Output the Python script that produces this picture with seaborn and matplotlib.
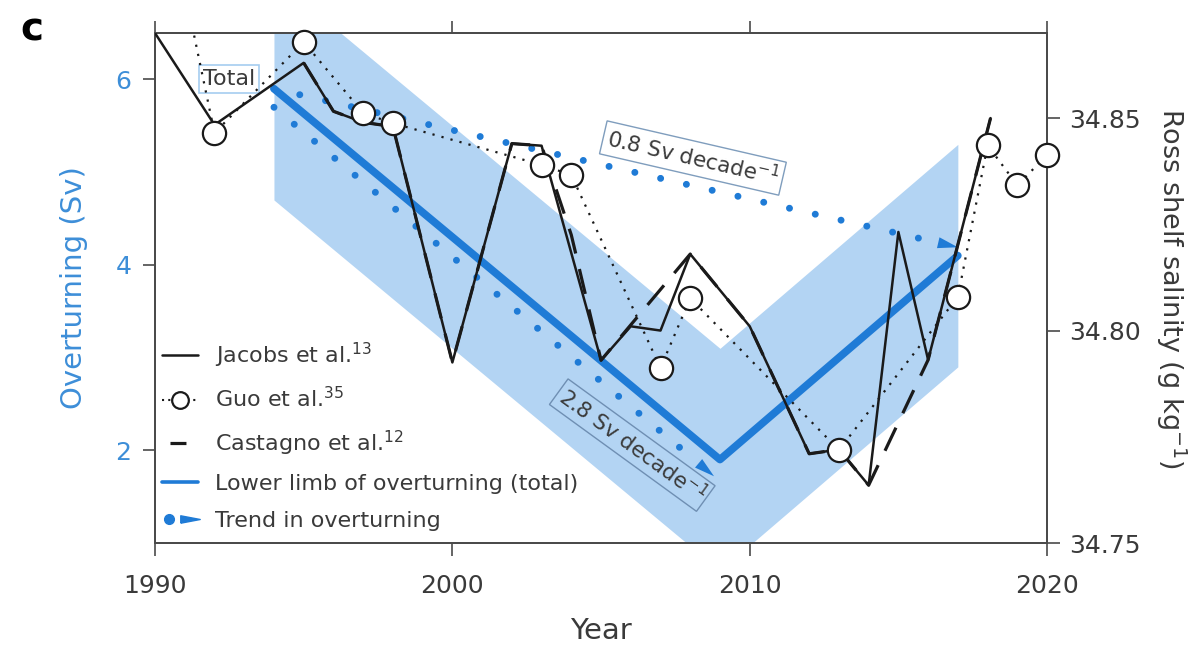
import numpy as np
import pandas as pd
import matplotlib
matplotlib.use("Agg")
import matplotlib.pyplot as plt
import seaborn as sns
from matplotlib.lines import Line2D
from matplotlib.legend_handler import HandlerTuple
from matplotlib.ticker import FormatStrFormatter

# ---------------- data ----------------
limb_years = [1994, 2009, 2017]
limb_sv = [5.9, 1.9, 4.1]
band_upper = [7.1, 3.1, 5.3]
band_lower = [4.7, 0.7, 2.9]

trend_slow_years = [1994, 2017]
trend_slow_sv = [5.9, 4.19]
trend_fast_years = [1994, 2008.8]
trend_fast_sv = [5.7, 1.72]

jacobs_years = [1990, 1992, 1995, 1996, 1997, 1998, 2000, 2002, 2003, 2005, 2006,
                2007, 2008, 2010, 2012, 2013, 2014, 2015, 2016, 2018.1]
jacobs_sal = [34.870, 34.8484, 34.863, 34.8516, 34.849, 34.848, 34.7925, 34.844,
              34.8435, 34.793, 34.801, 34.800, 34.818, 34.801, 34.771, 34.772,
              34.7636, 34.8232, 34.7931, 34.850]

castagno_years = [1995, 1996, 1997, 1998, 2000, 2002, 2003, 2004, 2005, 2008, 2010,
                  2012, 2013, 2014, 2016, 2018.1]
castagno_sal = [34.863, 34.8516, 34.849, 34.848, 34.7925, 34.844, 34.8435, 34.8225,
                34.793, 34.818, 34.801, 34.771, 34.772, 34.7636, 34.7931, 34.850]

guo_years = [1991, 1992, 1995, 1997, 1998, 2003, 2004, 2007, 2008, 2013, 2017,
             2018, 2019, 2020]
guo_sal = [34.88, 34.8465, 34.8679, 34.8512, 34.8488, 34.839, 34.8366, 34.7912,
           34.8076, 34.7719, 34.8079, 34.8436, 34.8342, 34.8413]

x_ticks = [1990, 2000, 2010, 2020]
sv_ticks = [2, 4, 6]
sal_ticks = [34.75, 34.80, 34.85]

legend_labels = ["Jacobs et al.$^{13}$", "Guo et al.$^{35}$", "Castagno et al.$^{12}$",
                 "Lower limb of overturning (total)", "Trend in overturning"]

# ---------------- style ----------------
sns.set_theme(style="ticks")
plt.rcParams["font.family"] = ["DejaVu Sans"]
plt.rcParams["mathtext.fontset"] = "dejavusans"

BLUE = "#1f7bd6"
BAND = "#b3d4f3"
LABEL_BLUE = "#3d8ed8"
BLACK = "#1a1a1a"
GREY = "#3a3a3a"
SPINE = "#4a4a4a"

fig = plt.figure(figsize=(11.98, 6.49), dpi=100)
ax = fig.add_axes([0.1294, 0.1633, 0.7446, 0.7857])
ax2 = ax.twinx()

ax.set_xlim(1990, 2020)
ax.set_ylim(1.0, 6.5)
ax2.set_ylim(34.75, 34.87)

# band and lower limb
ax.fill_between(limb_years, band_lower, band_upper, color=BAND, lw=0, zorder=1)
sns.lineplot(x=limb_years, y=limb_sv, ax=ax, color=BLUE, lw=5.5, estimator=None,
             sort=False, solid_capstyle="round", zorder=3)

# trend lines with arrow heads
def trend(xs, ys, head_years=0.7):
    x0, x1 = xs
    y0, y1 = ys
    frac = head_years / (x1 - x0)
    xb = x1 - frac * (x1 - x0)
    yb = y1 - frac * (y1 - y0)
    xd = x1 - 1.25 * frac * (x1 - x0)
    yd = y1 - 1.25 * frac * (y1 - y0)
    sns.lineplot(x=[x0, xd], y=[y0, yd], ax=ax, color=BLUE, lw=5.0,
                 linestyle=(0, (0.01, 3.8)), dash_capstyle="round",
                 estimator=None, sort=False, zorder=4)
    ax.annotate("", xy=(x1, y1), xytext=(xb, yb),
                arrowprops=dict(arrowstyle="-|>,head_length=1.45,head_width=0.4",
                                mutation_scale=10, fc=BLUE, ec="none", lw=0,
                                shrinkA=0, shrinkB=0), zorder=4)

trend(trend_slow_years, trend_slow_sv)
trend(trend_fast_years, trend_fast_sv)

# salinity records on right axis
sns.lineplot(x=guo_years, y=guo_sal, ax=ax2, color=BLACK, lw=1.6,
             linestyle=(0, (1, 3.2)), estimator=None, sort=False, zorder=2)
sns.lineplot(x=castagno_years, y=castagno_sal, ax=ax2, color=BLACK, lw=2.3,
             linestyle=(0, (8, 5)), estimator=None, sort=False, zorder=3)
sns.lineplot(x=jacobs_years, y=jacobs_sal, ax=ax2, color=BLACK, lw=1.8,
             estimator=None, sort=False, zorder=4)
guo_df = pd.DataFrame({"year": guo_years, "sal": guo_sal})
guo_df = guo_df[guo_df["sal"] <= 34.87]
sns.scatterplot(data=guo_df, x="year", y="sal", ax=ax2, s=280, marker="o",
                facecolor="white", edgecolor=BLACK, linewidth=1.6, zorder=5,
                clip_on=False)

# annotations
ax.text(1992.5, 6.0, "Total", ha="center", va="center", fontsize=16, color=GREY,
        zorder=6, bbox=dict(boxstyle="square,pad=0.18", fc="white", ec="#a6cdf0", lw=1.2))
ax2.text(0.603, 0.755, "0.8 Sv decade$^{-1}$", transform=ax.transAxes, ha="center",
         va="center", fontsize=15.5, color=GREY, rotation=-13, zorder=6,
         bbox=dict(boxstyle="square,pad=0.2", fc="white", ec="#7f9dbd", lw=1.0))
ax2.text(0.535, 0.192, "2.8 Sv decade$^{-1}$", transform=ax.transAxes, ha="center",
         va="center", fontsize=15.5, color=GREY, rotation=-36, zorder=6,
         bbox=dict(boxstyle="square,pad=0.15", fc="none", ec="#6f8fb3", lw=1.0))

# axes styling
for a in (ax, ax2):
    for s in a.spines.values():
        s.set_color(SPINE)
        s.set_linewidth(1.3)
ax.set_xticks(x_ticks)
ax.set_yticks(sv_ticks)
ax2.set_yticks(sal_ticks)
ax2.yaxis.set_major_formatter(FormatStrFormatter("%.2f"))
ax.tick_params(axis="x", which="both", top=True, direction="out", length=9, width=1.2,
               color=SPINE, labelsize=18, labelcolor=GREY, pad=13)
ax.tick_params(axis="y", direction="out", length=9, width=1.2, color=SPINE,
               labelsize=18, labelcolor=LABEL_BLUE, pad=8)
ax2.tick_params(axis="y", direction="out", length=9, width=1.2, color=SPINE,
                labelsize=18, labelcolor=GREY, pad=7)
ax.set_xlabel("Year", fontsize=21, color=GREY, labelpad=14)
ax.set_ylabel("Overturning (Sv)", fontsize=21, color=LABEL_BLUE, labelpad=20)
ax2.set_ylabel("Ross shelf salinity (g kg$^{-1}$)", fontsize=19.5, color=GREY,
               rotation=270, labelpad=34)

# legend
arrow_marker = [(-1, -0.38), (1, 0), (-1, 0.38), (-1, -0.38)]
handles = [
    Line2D([], [], color=BLACK, lw=1.8),
    Line2D([], [], color=BLACK, lw=1.5, ls=(0, (1, 2)), marker="o", ms=12,
           mfc="white", mec=BLACK, mew=1.6),
    Line2D([], [], color=BLACK, lw=2.3, ls=(-2.5, (5, 20))),
    Line2D([], [], color=BLUE, lw=2.6),
    (Line2D([], [], ls="none", marker="o", ms=7, color=BLUE),
     Line2D([], [], ls="none", marker=arrow_marker, ms=14, color=BLUE)),
]
leg = ax2.legend(handles, legend_labels, loc="upper left", bbox_to_anchor=(0.008, 0.397),
                 frameon=False, fontsize=16, handlelength=1.6, handletextpad=0.8,
                 labelspacing=0.75, borderaxespad=0, borderpad=0,
                 handler_map={tuple: HandlerTuple(ndivide=None, pad=0.3)})
for t in leg.get_texts():
    t.set_color(GREY)
leg.set_zorder(10)

fig.text(0.017, 0.954, "c", fontsize=28, fontweight="heavy", color="black",
         ha="left", va="center")

fig.savefig("out.png", dpi=100)
